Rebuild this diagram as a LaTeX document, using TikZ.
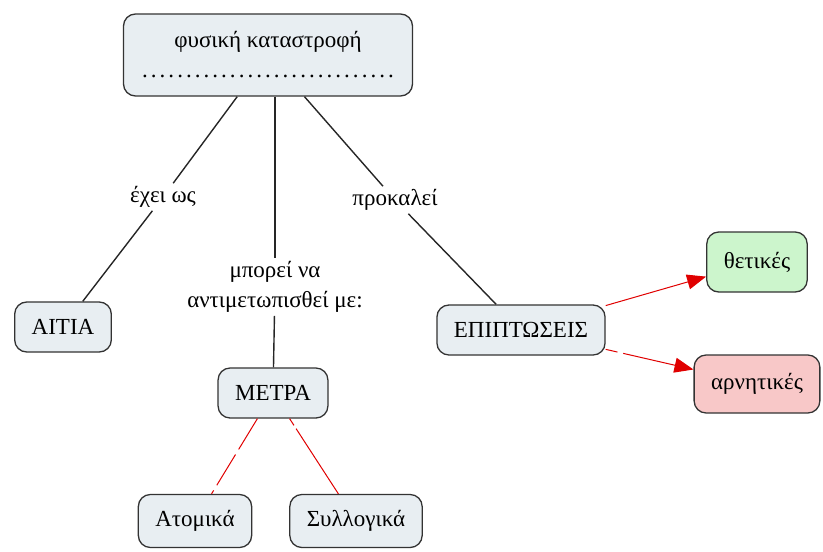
\documentclass[tikz,border=0pt]{standalone}
\usepackage{fontspec}
\setmainfont{Liberation Serif}
\usetikzlibrary{arrows.meta}
\definecolor{boxfill}{HTML}{E8EEF2}
\definecolor{goodfill}{HTML}{CCF5CC}
\definecolor{badfill}{HTML}{F8C8C8}
\definecolor{boxline}{HTML}{333333}
\definecolor{linkred}{HTML}{E00000}
\newcommand{\dotrow}{\hbox to 255pt{\xleaders\hbox to 8.6pt{\hss.\hss}\hfill}}

\begin{document}
\begin{tikzpicture}[x=1pt,y=-1pt,font=\fontsize{23}{30}\selectfont]
\tikzset{concept/.style={rectangle, align=center, rounded corners=12pt, fill=boxfill, draw=boxline, line width=1.3pt, minimum height=50pt, inner xsep=17pt},
		good/.style={concept, fill=goodfill, minimum height=60pt},
		bad/.style={concept, fill=badfill, minimum height=58pt},
		phrase/.style={align=center, inner sep=3pt},
		link/.style={draw=black!85, line width=1.4pt},
		redlink/.style={draw=linkred, line width=1pt},
		gap/.style={redlink, dash pattern=on 36pt off 6pt},
		tip/.style={-{Triangle[length=19pt,width=15pt]}}}
\useasboundingbox (0,0) rectangle (823,552);
\node[concept, minimum width=287pt, minimum height=82pt] (top) at (268,55) {φυσική καταστροφή\\\dotrow};
\node[concept] (causes) at (63,327) {ΑΙΤΙΑ};
\node[concept] (measures) at (273,393) {ΜΕΤΡΑ};
\node[concept] (effects) at (521,330) {ΕΠΙΠΤΩΣΕΙΣ};
\node[good] (positive) at (757,262) {θετικές};
\node[bad] (negative) at (757,384) {αρνητικές};
\node[concept, minimum height=53pt] (single) at (195,521) {Ατομικά};
\node[concept, minimum height=53pt] (group) at (356,521) {Συλλογικά};
% linking phrases
\node[phrase] (has) at (163,197) {έχει ως};
\node[phrase] (can) at (275,287) {μπορεί να\\αντιμετωπισθεί με:};
\node[phrase] (makes) at (395,200) {προκαλεί};
\draw[link] (top) -- (has);
\draw[link] (has) -- (causes);
\draw[link] (top.south -| can) -- (can);
\draw[link] (can) -- (measures);
\draw[link] (top) -- (makes);
\draw[link] (makes) -- (effects);
\draw[redlink, tip] (effects) -- (positive);
\draw[redlink, tip, dash pattern=on 12pt off 6pt on 80pt] (effects) -- (negative);
\draw[gap] (measures) -- (single);
\draw[redlink, dash pattern=on 8pt off 4pt on 80pt] (measures) -- (group);
\end{tikzpicture}
\end{document}
